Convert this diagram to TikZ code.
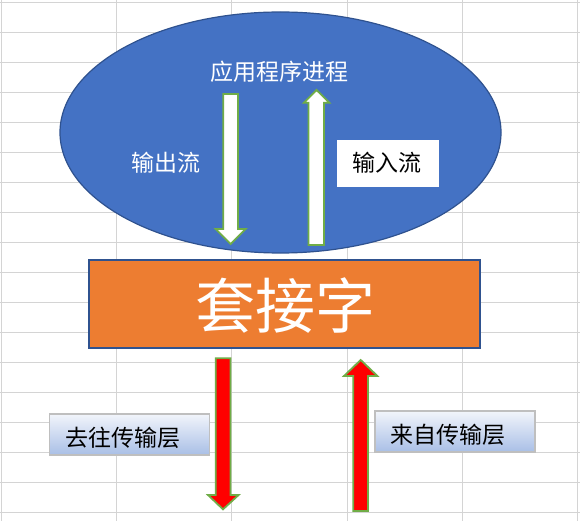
\documentclass[tikz,border=0pt]{standalone}
\usepackage{fontspec}
\usetikzlibrary{shapes.geometric}
\newfontfamily\cjk{Noto Sans CJK SC}
\definecolor{gridc}{HTML}{D4D4D4}
\definecolor{ellfill}{HTML}{4472C4}
\definecolor{darkblue}{HTML}{2F528F}
\definecolor{orangef}{HTML}{ED7D31}
\definecolor{greenl}{HTML}{70AD47}
\definecolor{labtop}{HTML}{F2F5FB}
\definecolor{labbot}{HTML}{A9BFE6}
\definecolor{labborder}{HTML}{BFBFBF}
\tikzset{
  blockarrow/.style={draw=greenl, line width=1.8pt, line join=miter},
  whitearrow/.style={blockarrow, fill=white},
  redarrow/.style={blockarrow, fill=red},
  midtext/.style={font=\cjk\fontsize{23}{26}\selectfont, inner sep=0pt},
  labelbox/.style={draw=labborder, line width=1.6pt, top color=labtop, bottom color=labbot,
    minimum width=160pt, minimum height=41pt, inner sep=0pt, text=black,
    font=\cjk\fontsize{23}{26}\selectfont},
}
\begin{document}
\begin{tikzpicture}[x=1pt,y=-1pt]
\useasboundingbox (0,0) rectangle (580,521);
\fill[white] (0,0) rectangle (580,521);
% grid
\foreach \gx in {1.5,116.5,231.5,347,462,577}
  \draw[gridc, line width=1pt] (\gx,0) -- (\gx,521);
\foreach \gy in {2.3,32.3,...,512.3}
  \draw[gridc, line width=1pt] (0,\gy) -- (580,\gy);
% ellipse
\node[draw=darkblue, line width=1.2pt, fill=ellfill, ellipse, minimum width=441pt, minimum height=241pt, inner sep=0pt] (app) at (280.5,132.5) {};
\node[midtext, text=white] (apptext) at (279,72) {应用程序进程};
\node[midtext, text=white] (outtext) at (166,163) {输出流};
\node[fill=white, minimum width=102pt, minimum height=47pt, inner sep=0pt] (inbox) at (388,163.5) {};
\node[midtext, text=black] (intext) at (387,163) {输入流};
% white arrows
\draw[whitearrow] (223.3,94) -- (238,94) -- (238,229) -- (245.7,229) -- (230.7,244) -- (215.7,229) -- (223.3,229) -- cycle;
\draw[whitearrow] (308.5,245) -- (324,245) -- (324,102.7) -- (329.3,102.7) -- (316.5,90) -- (304,102.7) -- (308.5,102.7) -- cycle;
% socket rectangle
\node[draw=darkblue, line width=1.8pt, fill=orangef, minimum width=391pt, minimum height=88pt, inner sep=0pt] (sock) at (284.5,304) {};
\node[font=\cjk\fontsize{60}{64}\selectfont, text=white, inner sep=0pt] (socktext) at (285,306) {套接字};
% red arrows
\draw[redarrow] (215.7,358.3) -- (230.5,358.3) -- (230.5,495) -- (238.6,495) -- (223,509.3) -- (208,495) -- (215.7,495) -- cycle;
\draw[redarrow] (353.3,511) -- (368,511) -- (368,376) -- (377.4,376) -- (360.7,360) -- (344,376) -- (353.3,376) -- cycle;
% labels
\node[labelbox] (tobox) at (129.3,434.2) {};
\node[midtext, text=black, anchor=west] (totext) at (65,438) {去往传输层};
\node[labelbox] (frombox) at (455,431.4) {};
\node[midtext, text=black, anchor=west] (fromtext) at (390,435) {来自传输层};
\end{tikzpicture}
\end{document}
